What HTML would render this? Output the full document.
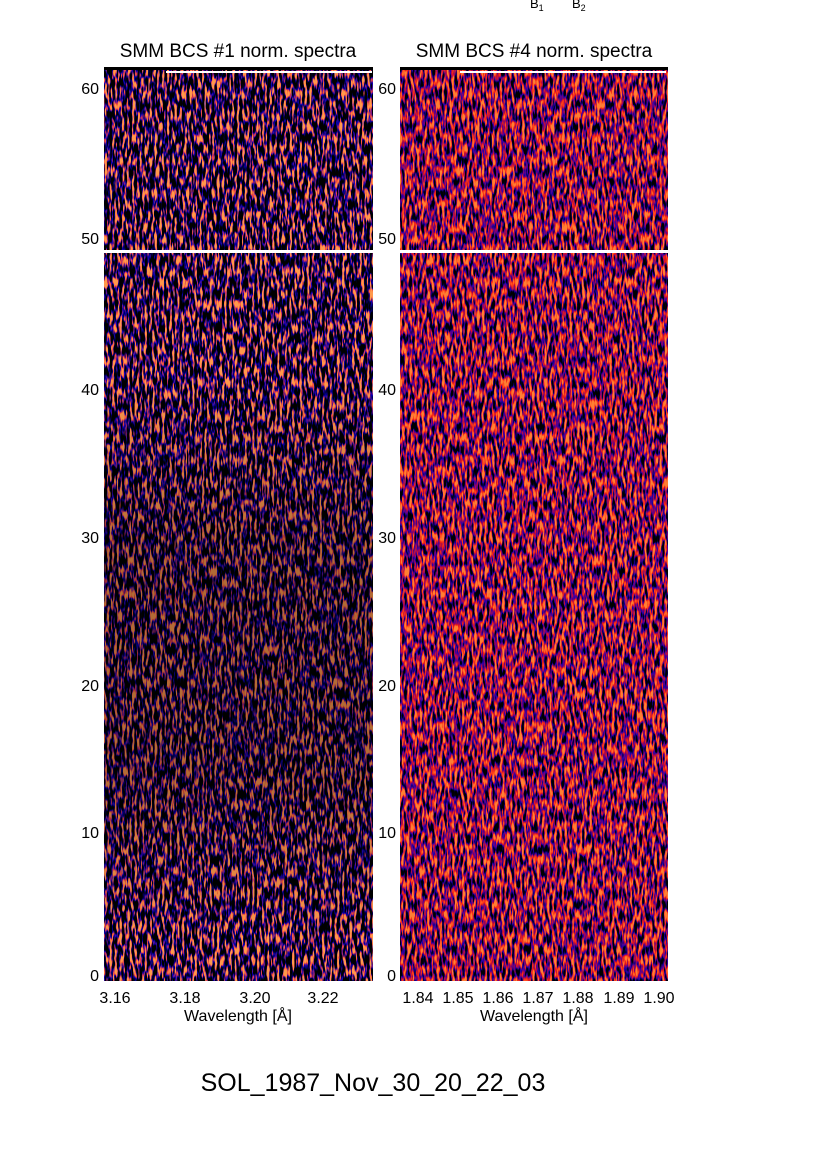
<!DOCTYPE html>
<html><head><meta charset="utf-8"><style>
html,body{margin:0;padding:0;background:#fff;}
body{width:826px;height:1169px;overflow:hidden;}
</style></head><body>
<svg width="826" height="1169" xmlns="http://www.w3.org/2000/svg" font-family="Liberation Sans, sans-serif">
<defs>
<filter id="fL" x="0" y="0" width="100%" height="100%" color-interpolation-filters="sRGB">
<feTurbulence type="fractalNoise" baseFrequency="0.4 0.09" numOctaves="2" seed="3"/>
<feColorMatrix type="matrix" values="3 0 0 0 -1  3 0 0 0 -1  3 0 0 0 -1  0 0 0 0 1"/>
<feComponentTransfer>
<feFuncR type="table" tableValues="0 0 0 0 0.05 0.7 1 1"/>
<feFuncG type="table" tableValues="0 0 0 0 0 0.15 0.35 0.6"/>
<feFuncB type="table" tableValues="0 0 0 0.3 0.75 0.4 0.2 0.3"/>
</feComponentTransfer>
</filter>
<filter id="fR" x="0" y="0" width="100%" height="100%" color-interpolation-filters="sRGB">
<feTurbulence type="fractalNoise" baseFrequency="0.4 0.09" numOctaves="2" seed="7"/>
<feColorMatrix type="matrix" values="3 0 0 0 -1  3 0 0 0 -1  3 0 0 0 -1  0 0 0 0 1"/>
<feComponentTransfer>
<feFuncR type="table" tableValues="0 0 0.15 0.5 0.9 1 1"/>
<feFuncG type="table" tableValues="0 0 0 0 0.1 0.25 0.5"/>
<feFuncB type="table" tableValues="0 0.25 0.7 0.45 0.1 0.1 0.2"/>
</feComponentTransfer>
</filter>
<linearGradient id="gL" x1="0" y1="0" x2="0" y2="1">
<stop offset="0" stop-color="#000" stop-opacity="0"/>
<stop offset="0.3" stop-color="#000" stop-opacity="0.3"/>
<stop offset="0.7" stop-color="#000" stop-opacity="0.3"/>
<stop offset="1" stop-color="#000" stop-opacity="0"/>
</linearGradient>
</defs>
<text x="530" y="8" font-size="13">B<tspan font-size="9" dy="3">1</tspan></text>
<text x="572" y="8" font-size="13">B<tspan font-size="9" dy="3">2</tspan></text>

<text x="238" y="57" font-size="19" text-anchor="middle">SMM BCS #1 norm. spectra</text>
<text x="534" y="57" font-size="19" text-anchor="middle">SMM BCS #4 norm. spectra</text>

<rect x="104" y="67" width="269" height="914" filter="url(#fL)"/>
<rect x="104" y="380" width="269" height="560" fill="url(#gL)"/>
<rect x="400" y="67" width="268" height="914" filter="url(#fR)"/>
<rect x="104" y="67" width="269" height="3" fill="#000"/>
<rect x="400" y="67" width="268" height="3" fill="#000"/>
<rect x="166" y="71" width="206" height="2" fill="#fff"/>
<rect x="460" y="71" width="206" height="2" fill="#fff"/>
<rect x="104" y="250" width="269" height="3" fill="#fff"/>
<rect x="400" y="250" width="268" height="3" fill="#fff"/>

<g font-size="16" text-anchor="end">
<text x="99" y="981">0</text><text x="99" y="838">10</text><text x="99" y="691">20</text><text x="99" y="543">30</text><text x="99" y="395">40</text><text x="99" y="244">50</text><text x="99" y="94">60</text>
<text x="396" y="981">0</text><text x="396" y="838">10</text><text x="396" y="691">20</text><text x="396" y="543">30</text><text x="396" y="395">40</text><text x="396" y="244">50</text><text x="396" y="94">60</text>
</g>
<g font-size="16" text-anchor="middle">
<text x="115" y="1003">3.16</text><text x="185" y="1003">3.18</text><text x="255" y="1003">3.20</text><text x="323" y="1003">3.22</text>
<text x="418" y="1003">1.84</text><text x="458" y="1003">1.85</text><text x="498" y="1003">1.86</text><text x="538" y="1003">1.87</text><text x="578" y="1003">1.88</text><text x="619" y="1003">1.89</text><text x="659" y="1003">1.90</text>
<text x="238" y="1021">Wavelength [Å]</text>
<text x="534" y="1021">Wavelength [Å]</text>
</g>
<text x="373" y="1091" font-size="25" text-anchor="middle">SOL_1987_Nov_30_20_22_03</text>
</svg>
</body></html>
